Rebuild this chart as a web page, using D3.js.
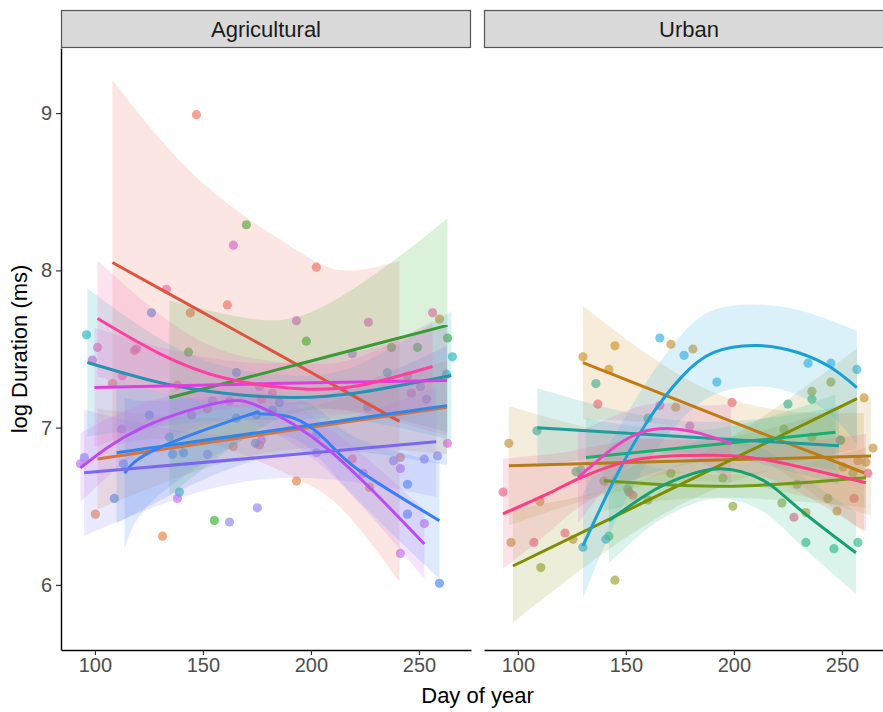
<!DOCTYPE html>
<html>
<head>
<meta charset="utf-8">
<script src="https://cdn.jsdelivr.net/npm/d3@7"></script>
<style>
  body { margin: 0; background: #fff; }
  svg { display: block; font-family: "Liberation Sans", Arial, sans-serif; }
</style>
</head>
<body>
<script>
// ---- data ----
const panels = ["Agricultural", "Urban"];
const xTicks = [100, 150, 200, 250];
const yTicks = [6, 7, 8, 9];
const xDomain = [84.3, 274.1];
const yDomain = [5.586, 9.414];

const agriGroups = ["R", "O", "G", "T", "B1", "B2", "V", "P", "M", "K"];
const urbanGroups = ["GD", "GF", "OL", "OC", "TG", "TL", "CY", "GC", "MG", "PK"];

// [group, day, log duration]
const agriPoints = [
  ["R", 147.0, 8.99], ["R", 202.5, 8.02], ["R", 161.3, 7.78], ["R", 144.2, 7.73], ["R", 118.3, 7.49],
  ["R", 108.1, 7.28], ["R", 138.2, 7.27], ["R", 244.7, 7.33], ["R", 177.1, 7.18], ["R", 152.1, 7.12],
  ["R", 176.2, 6.89], ["R", 219.2, 6.80], ["R", 241.4, 6.81],
  ["O", 259.5, 7.69], ["O", 164.1, 6.88], ["O", 227.1, 6.62], ["O", 193.3, 6.66], ["O", 100.2, 6.45],
  ["O", 131.3, 6.31],
  ["G", 170.1, 8.29], ["G", 263.2, 7.57], ["G", 197.9, 7.55], ["G", 143.3, 7.48], ["G", 237.3, 7.51],
  ["G", 249.3, 7.51], ["G", 155.3, 6.41],
  ["T", 96.1, 7.59], ["T", 265.5, 7.45], ["T", 235.4, 7.35], ["T", 262.7, 7.34], ["T", 134.5, 6.94],
  ["T", 139.1, 6.59],
  ["B1", 126.2, 7.73], ["B1", 165.5, 7.35], ["B1", 226.2, 7.13], ["B1", 125.2, 7.08], ["B1", 165.5, 7.06],
  ["B1", 174.8, 7.08], ["B1", 174.3, 6.90], ["B1", 135.9, 6.83], ["B1", 141.0, 6.84],
  ["B2", 185.4, 7.16], ["B2", 182.2, 7.11], ["B2", 113.2, 6.77], ["B2", 244.7, 6.64], ["B2", 109.0, 6.55],
  ["B2", 244.7, 6.45], ["B2", 259.5, 6.01],
  ["V", 219.2, 7.47], ["V", 154.4, 7.17], ["V", 202.5, 6.95], ["V", 152.1, 6.83], ["V", 202.5, 6.84],
  ["V", 238.2, 6.79], ["V", 252.5, 6.80], ["V", 258.6, 6.82], ["V", 95.1, 6.81], ["V", 175.2, 6.49],
  ["V", 162.3, 6.40], ["V", 250.7, 7.26], ["V", 253.5, 7.18],
  ["P", 177.1, 6.92], ["P", 93.3, 6.77], ["P", 138.2, 6.55], ["P", 252.5, 6.39], ["P", 241.4, 6.20],
  ["P", 224.3, 6.71], ["P", 241.4, 6.74],
  ["M", 164.1, 8.16], ["M", 193.3, 7.68], ["M", 226.6, 7.67], ["M", 98.8, 7.43], ["M", 176.2, 7.26],
  ["M", 144.7, 7.08], ["M", 112.3, 6.99], ["M", 263.2, 6.90], ["M", 246.5, 7.22],
  ["K", 133.1, 7.88], ["K", 256.3, 7.73], ["K", 101.2, 7.51], ["K", 119.2, 7.50], ["K", 112.7, 7.33],
  ["K", 182.2, 7.22], ["K", 162.3, 7.17]
];

const urbanPoints = [
  ["GD", 130.1, 7.45], ["GD", 142.1, 7.37], ["GD", 144.9, 7.52], ["GD", 181.0, 7.50], ["GD", 173.1, 7.13],
  ["GD", 170.8, 7.53], ["GD", 260.2, 7.19], ["GD", 247.7, 6.47], ["GD", 233.3, 6.46],
  ["GF", 95.8, 6.90], ["GF", 110.2, 6.53], ["GF", 96.8, 6.27], ["GF", 125.5, 6.29], ["GF", 257.4, 6.79],
  ["GF", 261.1, 6.78], ["GF", 264.4, 6.87], ["GF", 139.8, 6.66],
  ["OL", 110.6, 6.11], ["OL", 144.9, 6.03], ["OL", 244.9, 7.29], ["OL", 236.1, 7.23], ["OL", 223.1, 6.99],
  ["OL", 236.1, 6.94], ["OL", 160.2, 6.54],
  ["OC", 150.9, 6.61], ["OC", 194.9, 6.68], ["OC", 229.2, 6.64], ["OC", 199.5, 6.50], ["OC", 222.2, 6.52],
  ["OC", 243.5, 6.55], ["OC", 250.5, 6.75], ["OC", 255.1, 6.71], ["OC", 170.8, 6.71],
  ["TG", 126.9, 6.72], ["TG", 129.2, 6.73], ["TG", 236.1, 7.18], ["TG", 160.2, 7.06], ["TG", 249.5, 6.92],
  ["TL", 108.8, 6.98], ["TL", 136.1, 7.28], ["TL", 225.0, 7.15], ["TL", 249.1, 6.92],
  ["CY", 165.7, 7.57], ["CY", 176.9, 7.46], ["CY", 192.1, 7.29], ["CY", 234.3, 7.41], ["CY", 244.9, 7.41],
  ["CY", 256.9, 7.37], ["CY", 130.1, 6.24], ["CY", 140.7, 6.29],
  ["GC", 142.1, 6.31], ["GC", 233.3, 6.27], ["GC", 246.3, 6.23], ["GC", 257.4, 6.27],
  ["MG", 165.7, 7.14], ["MG", 179.6, 7.01],
  ["PK", 93.1, 6.59], ["PK", 107.4, 6.27], ["PK", 121.8, 6.33], ["PK", 137.0, 7.15], ["PK", 199.1, 7.16],
  ["PK", 227.8, 6.43], ["PK", 255.6, 6.55], ["PK", 262.0, 6.71], ["PK", 151.4, 6.59], ["PK", 153.2, 6.57]
];

// fitted curves: [group, day, fit, half width of confidence band]
const agriFits = [
  ["R", 108.1, 8.05, 1.16], ["R", 148.4, 7.744, 0.83], ["R", 190, 7.428, 0.73], ["R", 214.6, 7.24, 0.76], ["R", 241, 7.04, 1.02],
  ["O", 101.2, 6.80, 0.32], ["O", 182, 6.965, 0.12], ["O", 263, 7.13, 0.30],
  ["G", 134.5, 7.19, 0.62], ["G", 170, 7.317, 0.38], ["G", 200, 7.424, 0.31], ["G", 235, 7.549, 0.48], ["G", 263.2, 7.65, 0.68],
  ["T", 96.5, 7.414, 0.47], ["T", 129.9, 7.287, 0.28], ["T", 160.9, 7.217, 0.17], ["T", 191.4, 7.191, 0.14],
  ["T", 222.5, 7.223, 0.18], ["T", 265, 7.331, 0.41],
  ["B1", 110, 6.84, 0.45], ["B1", 186.5, 6.99, 0.16], ["B1", 263, 7.14, 0.38],
  ["B2", 113.7, 6.71, 0.48], ["B2", 129.9, 6.873, 0.30], ["B2", 170.1, 7.076, 0.14], ["B2", 176.2, 7.089, 0.13],
  ["B2", 191.4, 7.064, 0.13], ["B2", 207.2, 6.917, 0.16], ["B2", 222.5, 6.726, 0.20], ["B2", 259.5, 6.408, 0.37],
  ["V", 95, 6.713, 0.40], ["V", 176.5, 6.81, 0.14], ["V", 258, 6.91, 0.35],
  ["P", 93.3, 6.745, 0.22], ["P", 122, 7.0, 0.15], ["P", 157.6, 7.159, 0.12], ["P", 176.2, 7.134, 0.12],
  ["P", 207, 6.873, 0.14], ["P", 252.5, 6.26, 0.22],
  ["M", 99.8, 7.255, 0.38], ["M", 181, 7.28, 0.13], ["M", 263, 7.30, 0.35],
  ["K", 101.2, 7.694, 0.37], ["K", 129.9, 7.471, 0.25], ["K", 160.9, 7.312, 0.17], ["K", 194.7, 7.248, 0.16],
  ["K", 222.5, 7.268, 0.18], ["K", 256.3, 7.389, 0.29]
];

const urbanFits = [
  ["GD", 130.1, 7.414, 0.36], ["GD", 195, 7.06, 0.14], ["GD", 260.2, 6.713, 0.38],
  ["GF", 95.8, 6.758, 0.38], ["GF", 180, 6.789, 0.13], ["GF", 263.4, 6.82, 0.38],
  ["OL", 97.7, 6.12, 0.36], ["OL", 177, 6.65, 0.13], ["OL", 257, 7.185, 0.32],
  ["OC", 139.8, 6.662, 0.19], ["OC", 167.6, 6.637, 0.10], ["OC", 206.5, 6.631, 0.08], ["OC", 261.1, 6.682, 0.19],
  ["TG", 131.5, 6.81, 0.25], ["TG", 189, 6.89, 0.10], ["TG", 247, 6.97, 0.24],
  ["TL", 109, 7.0, 0.25], ["TL", 179, 6.94, 0.10], ["TL", 248.6, 6.885, 0.25],
  ["CY", 130.1, 6.248, 0.33], ["CY", 144.4, 6.662, 0.28], ["CY", 160.2, 7.045, 0.26], ["CY", 175.5, 7.318, 0.27],
  ["CY", 190.7, 7.478, 0.27], ["CY", 211.1, 7.522, 0.26], ["CY", 229.6, 7.478, 0.27], ["CY", 244.9, 7.382, 0.30],
  ["CY", 256.9, 7.255, 0.36],
  ["GC", 142.1, 6.408, 0.27], ["GC", 160.2, 6.58, 0.22], ["GC", 175.5, 6.682, 0.20], ["GC", 194, 6.739, 0.19],
  ["GC", 213.9, 6.662, 0.20], ["GC", 229.6, 6.49, 0.22], ["GC", 256.5, 6.204, 0.26],
  ["MG", 127.8, 6.682, 0.29], ["MG", 144.4, 6.873, 0.20], ["MG", 156.9, 6.968, 0.17], ["MG", 169.4, 6.994, 0.16],
  ["MG", 184.7, 6.962, 0.18], ["MG", 198.6, 6.898, 0.25],
  ["PK", 93.1, 6.452, 0.35], ["PK", 113.9, 6.58, 0.25], ["PK", 129.2, 6.682, 0.18], ["PK", 152.3, 6.79, 0.13],
  ["PK", 175.5, 6.822, 0.11], ["PK", 198.6, 6.822, 0.11], ["PK", 221.8, 6.777, 0.13], ["PK", 261.1, 6.65, 0.31]
];

// ---- styles ----
const lineColour = {
  R: "#dd5440", O: "#d9733c", G: "#3a9a35", T: "#2a90b0", B1: "#2e86e8", B2: "#3a7ef5",
  V: "#7b68f0", P: "#b84cf2", M: "#e03ce0", K: "#ff3fa0",
  GD: "#c27a12", GF: "#b67c18", OL: "#7f8c00", OC: "#6e9a18", TG: "#18b070", TL: "#1e9e9a",
  CY: "#1a9fd6", GC: "#16a070", MG: "#f040c0", PK: "#ff3c82"
};
const pointColour = {
  R: "#f07a6c", O: "#e8884f", G: "#45b53a", T: "#30bcc0", B1: "#4a95e6", B2: "#4f8ff2",
  V: "#968af2", P: "#c574f2", M: "#dc6ad8", K: "#f26cb6",
  GD: "#d09a36", GF: "#c49a48", OL: "#a0a63a", OC: "#93ab46", TG: "#3cbf8c", TL: "#3cb6ae",
  CY: "#3db5e2", GC: "#3cbf94", MG: "#e06ac8", PK: "#f06a8c"
};

const W = 883, H = 712;
const panelX = [61, 484];
const panelW = 410, panelH = 602, panelTop = 48;
const tickFont = 20;

const svg = d3.select("body").append("svg").attr("width", W).attr("height", H);

const x = d3.scaleLinear().domain(xDomain).range([0, panelW]);
const y = d3.scaleLinear().domain(yDomain).range([panelH, 0]);

const panelData = [
  { groups: agriGroups, points: agriPoints, fits: agriFits },
  { groups: urbanGroups, points: urbanPoints, fits: urbanFits }
];

svg.append("defs").append("clipPath").attr("id", "panel-clip")
  .append("rect").attr("width", panelW).attr("height", panelH);

const band = d3.area()
  .x(d => x(d[1]))
  .y0(d => y(d[2] - d[3]))
  .y1(d => y(d[2] + d[3]))
  .curve(d3.curveNatural);

const fitLine = d3.line()
  .x(d => x(d[1]))
  .y(d => y(d[2]))
  .curve(d3.curveNatural);

panels.forEach((name, i) => {
  const pd = panelData[i];

  // strip
  svg.append("rect")
    .attr("x", panelX[i] + 0.5).attr("y", 10.5)
    .attr("width", panelW - 1).attr("height", 37)
    .attr("fill", "#d9d9d9").attr("stroke", "#555").attr("stroke-width", 1.2);
  svg.append("text")
    .attr("x", panelX[i] + panelW / 2).attr("y", 37)
    .attr("text-anchor", "middle")
    .attr("font-size", 22).attr("fill", "#1a1a1a")
    .text(name);

  const g = svg.append("g").attr("transform", `translate(${panelX[i]},${panelTop})`);
  const plot = g.append("g").attr("clip-path", "url(#panel-clip)");

  plot.selectAll("circle")
    .data(pd.points)
    .join("circle")
    .attr("cx", d => x(d[1]))
    .attr("cy", d => y(d[2]))
    .attr("r", 4.6)
    .attr("fill", d => pointColour[d[0]])
    .attr("fill-opacity", 0.7);

  const byGroup = pd.groups.map(k => pd.fits.filter(f => f[0] === k));

  plot.selectAll("path.band")
    .data(byGroup)
    .join("path")
    .attr("class", "band")
    .attr("d", band)
    .attr("fill", d => pointColour[d[0][0]])
    .attr("fill-opacity", 0.19);

  plot.selectAll("path.fit")
    .data(byGroup)
    .join("path")
    .attr("class", "fit")
    .attr("d", fitLine)
    .attr("fill", "none")
    .attr("stroke", d => lineColour[d[0][0]])
    .attr("stroke-width", 3);

  // x axis
  const xAxis = g.append("g")
    .attr("transform", `translate(0,${panelH})`)
    .call(d3.axisBottom(x).tickValues(xTicks).tickSize(5).tickPadding(3).tickSizeOuter(0));
  xAxis.select(".domain").attr("stroke", "#000").attr("stroke-width", 1.4);
  xAxis.selectAll(".tick line").attr("stroke", "#333").attr("stroke-width", 1.2);
  xAxis.selectAll(".tick text").attr("font-size", tickFont).attr("fill", "#4d4d4d")
    .attr("font-family", "Liberation Sans, Arial, sans-serif");

  if (i === 0) {
    const yAxis = g.append("g")
      .call(d3.axisLeft(y).tickValues(yTicks).tickFormat(d3.format("d"))
        .tickSize(5).tickPadding(4).tickSizeOuter(0));
    yAxis.select(".domain").attr("stroke", "#000").attr("stroke-width", 1.4);
    yAxis.selectAll(".tick line").attr("stroke", "#333").attr("stroke-width", 1.2);
    yAxis.selectAll(".tick text").attr("font-size", tickFont).attr("fill", "#4d4d4d")
      .attr("font-family", "Liberation Sans, Arial, sans-serif");
  }
});

// axis titles
svg.append("text")
  .attr("x", (panelX[0] + panelX[1] + panelW) / 2).attr("y", 703)
  .attr("text-anchor", "middle").attr("font-size", 22).attr("fill", "#000")
  .text("Day of year");

svg.append("text")
  .attr("transform", `translate(27,${panelTop + panelH / 2})rotate(-90)`)
  .attr("text-anchor", "middle").attr("font-size", 22).attr("fill", "#000")
  .text("log Duration (ms)");
</script>
</body>
</html>
